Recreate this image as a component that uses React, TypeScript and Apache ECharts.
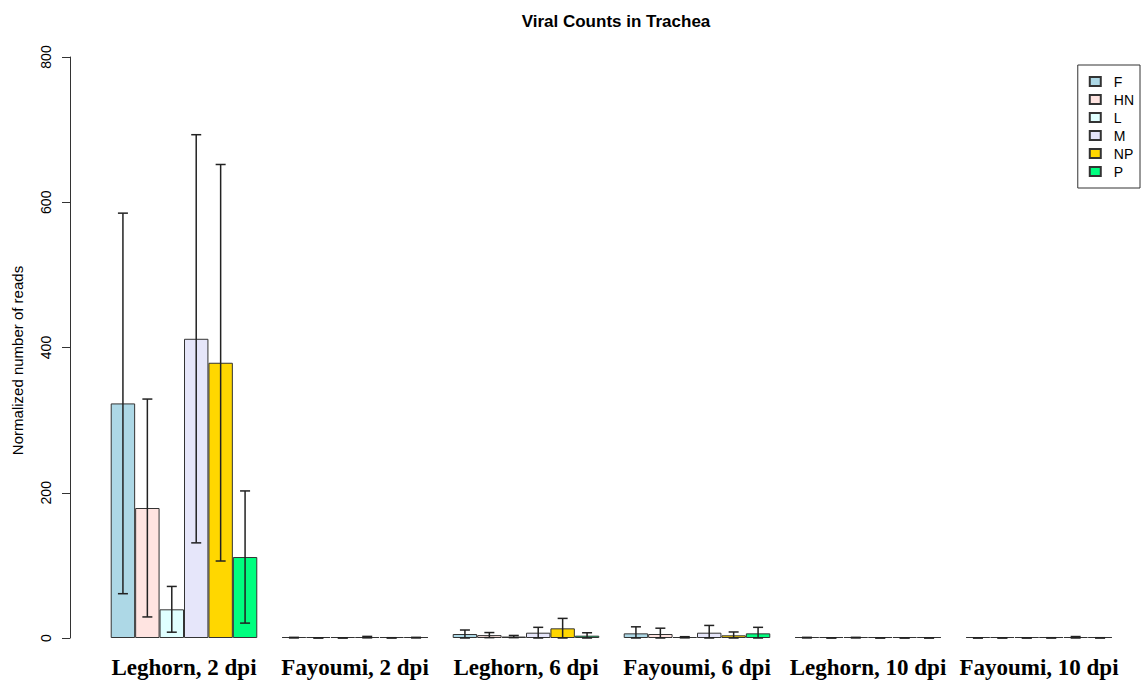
import React, { useEffect, useRef } from "react";
import * as echarts from "echarts";

const categories = [
  "Leghorn, 2 dpi",
  "Fayoumi, 2 dpi",
  "Leghorn, 6 dpi",
  "Fayoumi, 6 dpi",
  "Leghorn, 10 dpi",
  "Fayoumi, 10 dpi",
];

const genes = ["F", "HN", "L", "M", "NP", "P"];
const geneColors = ["#ADD8E6", "#FFE4E1", "#E0FFFF", "#E6E6FA", "#FFD700", "#00FF7F"];

const F = [323, 0.5, 5.5, 6.4, 0.5, 0.1];
const HN = [179, 0.1, 4, 5.5, 0.1, 0.1];
const L = [39.5, 0.1, 2, 1, 0.5, 0.1];
const M = [412, 1.2, 7.3, 7.3, 0.1, 0.2];
const NP = [379, 0.2, 13.3, 3.7, 0.1, 1];
const P = [111.5, 0.5, 3.2, 6.4, 0.1, 0.2];

const F_sd = [262, 0.4, 5.5, 9, 0.4, 0.1];
const HN_sd = [150, 0.1, 3.5, 8, 0.1, 0.1];
const L_sd = [31.5, 0.1, 1.5, 0.8, 0.4, 0.1];
const M_sd = [281, 1, 7.4, 10, 0.1, 0.2];
const NP_sd = [273, 0.2, 13.7, 4.6, 0.1, 1];
const P_sd = [91, 0.4, 4, 8.3, 0.1, 0.2];

const means = [F, HN, L, M, NP, P];
const sds = [F_sd, HN_sd, L_sd, M_sd, NP_sd, P_sd];

const yTicks = [0, 200, 400, 600, 800];

export default function App() {
  const ref = useRef<HTMLDivElement>(null);
  useEffect(() => {
    if (!ref.current) return;
    const chart = echarts.init(ref.current, null, { renderer: "svg" });
    const nGenes = genes.length;
    const gapFrac = 1 / (nGenes + 1);

    const barSeries = genes.map((g, i) => ({
      name: g,
      type: "bar",
      data: means[i],
      barGap: "0%",
      barCategoryGap: (gapFrac * 100).toFixed(4) + "%",
      barMinHeight: 1,
      itemStyle: { color: geneColors[i], borderColor: "#333", borderWidth: 1 },
      emphasis: { disabled: true },
    }));

    const errData: number[][] = [];
    for (let k = 0; k < nGenes; k++) {
      for (let c = 0; c < categories.length; c++) {
        errData.push([c, k, means[k][c], sds[k][c]]);
      }
    }

    const errSeries = {
      type: "custom",
      name: "err",
      data: errData,
      encode: { x: 0, y: 2 },
      z: 10,
      renderItem: (params: any, api: any) => {
        const c = api.value(0);
        const k = api.value(1);
        const m = api.value(2);
        const s = api.value(3);
        const catW = api.size([1, 0])[0];
        const barW = (catW * (1 - gapFrac)) / nGenes;
        const center = api.coord([c, 0])[0];
        const x = center + (k - (nGenes - 1) / 2) * barW;
        const yHi = api.coord([c, m + s])[1];
        const yLo = api.coord([c, Math.max(m - s, 0)])[1];
        const cap = 5;
        const st = { stroke: "#222", lineWidth: 1.5 };
        return {
          type: "group",
          children: [
            { type: "line", shape: { x1: x, y1: yHi, x2: x, y2: yLo }, style: st },
            { type: "line", shape: { x1: x - cap, y1: yHi, x2: x + cap, y2: yHi }, style: st },
            { type: "line", shape: { x1: x - cap, y1: yLo, x2: x + cap, y2: yLo }, style: st },
          ],
        };
      },
    };

    chart.setOption({
      animation: false,
      backgroundColor: "#fff",
      title: {
        text: "Viral Counts in Trachea",
        left: 611,
        top: 8,
        textAlign: "center",
        textStyle: { fontFamily: "Liberation Sans", fontWeight: "bold", fontSize: 17, color: "#000" },
      },
      legend: {
        data: genes,
        orient: "vertical",
        right: 2,
        top: 65,
        padding: [9, 6, 9, 11],
        borderColor: "#333",
        borderWidth: 1,
        itemWidth: 11,
        itemHeight: 9,
        itemGap: 3,
        icon: "rect",
        textStyle: {
          fontFamily: "Liberation Sans",
          fontSize: 14,
          color: "#000",
          lineHeight: 15,
          padding: [0, 0, 0, 8],
        },
      },
      grid: { left: 98.5, right: 17.5, top: 57, bottom: 43 },
      xAxis: {
        type: "category",
        data: categories,
        axisLine: { show: false },
        axisTick: { show: false },
        axisLabel: {
          fontFamily: "Liberation Serif",
          fontWeight: "bold",
          fontSize: 23,
          color: "#000",
          margin: 18,
          interval: 0,
        },
      },
      yAxis: {
        type: "value",
        min: 0,
        max: 800,
        interval: 200,
        offset: 28.5,
        name: "Normalized number of reads",
        nameLocation: "middle",
        nameGap: 45,
        nameTextStyle: {
          fontFamily: "Liberation Sans",
          fontSize: 15,
          color: "#000",
          padding: [0, 26, 0, 0],
        },
        axisLine: { show: true, lineStyle: { color: "#333", width: 1 } },
        axisTick: { show: true, length: 8, lineStyle: { color: "#333" } },
        splitLine: { show: false },
        axisLabel: {
          rotate: 90,
          fontFamily: "Liberation Sans",
          fontSize: 14,
          color: "#000",
          margin: 17,
          formatter: (v: number) => (yTicks.includes(v) ? String(v) : ""),
        },
      },
      series: [...barSeries, errSeries],
    });
    return () => chart.dispose();
  }, []);
  return (
    <div
      ref={ref}
      style={{ position: "fixed", left: 0, top: 0, width: 1142, height: 681 }}
    />
  );
}
